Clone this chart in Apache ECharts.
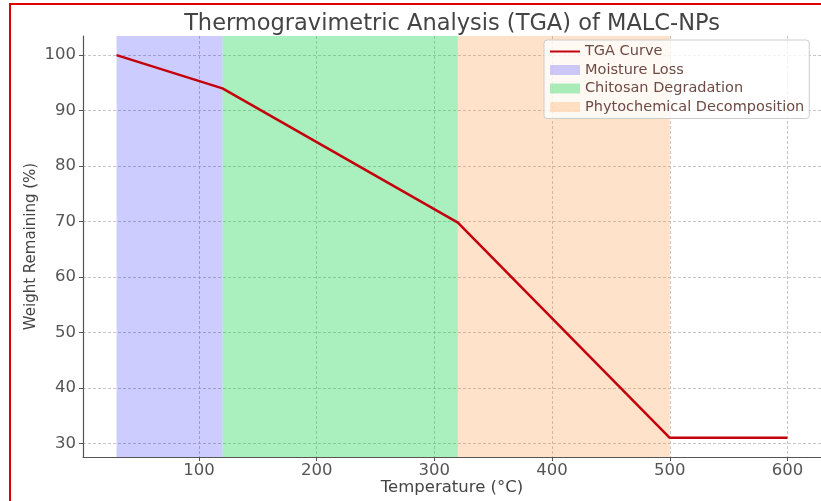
<!DOCTYPE html>
<html>
<head>
<meta charset="utf-8">
<script src="https://cdn.jsdelivr.net/npm/echarts@6/dist/echarts.min.js"></script>
<style>
html,body{margin:0;padding:0;background:#fff;}
#chart{width:821px;height:501px;position:absolute;left:0;top:0;}
#ftop{position:absolute;left:9px;top:3px;width:812px;height:2px;background:#e00000;}
#fleft{position:absolute;left:9px;top:3px;width:2px;height:498px;background:#e00000;}
</style>
</head>
<body>
<div id="chart"></div>
<div id="ftop"></div>
<div id="fleft"></div>
<script>
const temperature = [30, 120, 320, 500, 600];
const weight = [100, 94, 69.8, 31, 31];
const xTicks = [100, 200, 300, 400, 500, 600];
const yTicks = [30, 40, 50, 60, 70, 80, 90, 100];
const bandNames = ['Moisture Loss', 'Chitosan Degradation', 'Phytochemical Decomposition'];
const bandStart = [30, 120, 320];
const bandEnd = [120, 320, 500];
const bandColors = ['rgba(0,0,255,0.2)', 'rgba(12,212,69,0.35)', 'rgba(255,140,40,0.25)'];

const chart = echarts.init(document.getElementById('chart'));
const textColor = '#555';
const bandSeries = bandNames.map((n, i) => ({
  name: n,
  type: 'line',
  data: [],
  itemStyle: {color: bandColors[i]},
  lineStyle: {color: bandColors[i]},
  markArea: {
    silent: true,
    itemStyle: {color: bandColors[i]},
    label: {show: false},
    data: [[{xAxis: bandStart[i]}, {xAxis: bandEnd[i]}]]
  }
}));

chart.setOption({
  animation: false,
  title: {
    text: 'Thermogravimetric Analysis (TGA) of MALC-NPs',
    left: 447, top: 8, textAlign: 'center',
    textStyle: {fontFamily: 'DejaVu Sans', fontSize: 22.5, fontWeight: 'normal', color: '#444'}
  },
  grid: {left: 83, right: 0, top: 36, bottom: 44, containLabel: false, outerBoundsMode: 'none'},
  legend: {
    orient: 'vertical', left: 544, top: 40,
    padding: [4, 5, 4, 6], itemGap: 3.5, itemWidth: 30, itemHeight: 10,
    backgroundColor: 'rgba(255,255,255,0.8)', borderColor: '#cccccc', borderWidth: 1, borderRadius: 3,
    textStyle: {fontFamily: 'DejaVu Sans', fontSize: 14.5, color: '#6e4a44'},
    data: [
      {name: 'TGA Curve', icon: 'path://M0,4 L30,4 L30,6 L0,6 Z', itemStyle: {color: '#c4000c'}},
      ...bandNames.map((n, i) => ({name: n, icon: 'rect', itemStyle: {color: bandColors[i]}}))
    ]
  },
  xAxis: {
    type: 'value', min: 1.5, max: 628.5,
    name: 'Temperature (°C)', nameLocation: 'middle', nameGap: 22, nameMoveOverlap: false,
    nameTextStyle: {fontFamily: 'DejaVu Sans', fontSize: 16.5, color: '#444'},
    axisLine: {show: true, lineStyle: {color: '#555', width: 1.2}},
    axisTick: {show: true, customValues: xTicks, length: 4, lineStyle: {color: '#555'}},
    axisLabel: {customValues: xTicks, margin: 5, fontFamily: 'DejaVu Sans', fontSize: 16.5, color: textColor},
    splitLine: {show: true, lineStyle: {color: '#b8b8b8', width: 0.8, type: [3, 2]}}
  },
  yAxis: {
    type: 'value', min: 27.55, max: 103.45,
    name: 'Weight Remaining (%)', nameLocation: 'middle', nameGap: 44, nameMoveOverlap: false,
    nameTextStyle: {fontFamily: 'DejaVu Sans', fontSize: 15, color: '#444'},
    axisLine: {show: true, lineStyle: {color: '#555', width: 1.2}},
    axisTick: {show: true, customValues: yTicks, length: 4, lineStyle: {color: '#555'}},
    axisLabel: {customValues: yTicks, margin: 7, fontFamily: 'DejaVu Sans', fontSize: 16.5, color: textColor},
    splitLine: {show: true, lineStyle: {color: '#b8b8b8', width: 0.8, type: [3, 2]}}
  },
  series: [
    {
      name: 'TGA Curve', type: 'line', z: 5,
      data: temperature.map((t, i) => [t, weight[i]]),
      symbol: 'none',
      itemStyle: {color: '#c4000c'},
      lineStyle: {color: '#c4000c', width: 2.5}
    },
    ...bandSeries
  ]
});
</script>
</body>
</html>
